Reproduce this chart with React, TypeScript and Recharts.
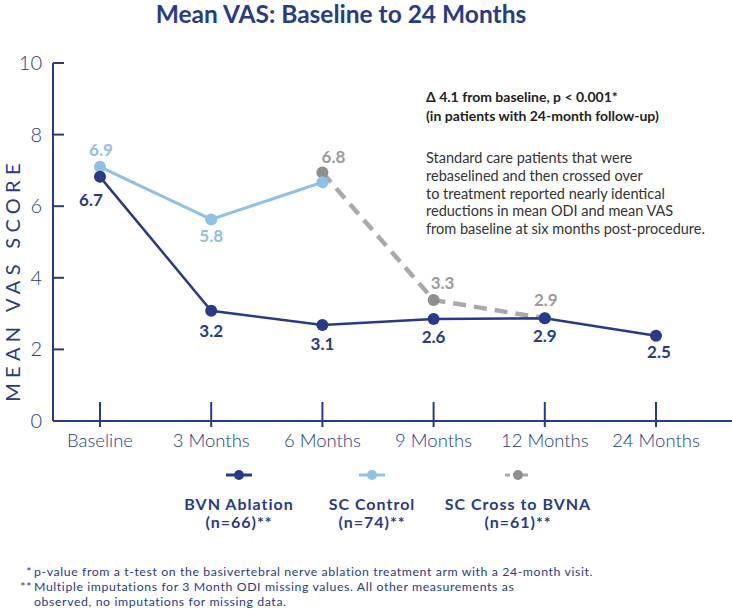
import { LabelList, Line, LineChart, XAxis, YAxis } from "recharts";

const months = ["Baseline", "3 Months", "6 Months", "9 Months", "12 Months", "24 Months"];
const bvnAblation = [6.82, 3.08, 2.68, 2.85, 2.87, 2.38];
const scControl = [7.1, 5.63, 6.67, null, null, null];
const scCross = [null, null, 6.94, 3.38, 2.87, null];
const bvnLabels = ["6.7", "3.2", "3.1", "2.6", "2.9", "2.5"];
const scLabels = ["6.9", "5.8", null, null, null, null];
const crossLabels = [null, null, "6.8", "3.3", "2.9", null];
const yTicks = [0, 2, 4, 6, 8, 10];

const NAVY = "#273b88";
const LIGHT = "#8fc0e6";
const GRAY_LINE = "#a9a9a9";
const GRAY_DOT = "#8f8f8f";
const FONT = "Lato, 'Open Sans', sans-serif";

// label offsets [dx, dy] per point (style only)
const bvnOffsets = [[-9, 29], [0, 26], [0, 25], [0, 24], [0, 24], [3, 22]];
const scOffsets = [[1, -11], [0, 23], [0, 0], [0, 0], [0, 0], [0, 0]];
const crossOffsets = [[0, 0], [0, 0], [11, -10], [9, -11], [1, -12], [0, 0]];

const chartData = months.map((month, i) => ({
  month,
  bvn: bvnAblation[i],
  sc: scControl[i],
  cross: scCross[i],
}));

const makeLabel =
  (texts: (string | null)[], offsets: number[][], color: string) =>
  (props: any) => {
    const i = props.index;
    const text = texts[i];
    if (!text) return null;
    const x = props.x ?? props.viewBox?.x;
    const y = props.y ?? props.viewBox?.y;
    if (x == null || y == null) return null;
    const [dx, dy] = offsets[i];
    return (
      <text
        x={x + dx}
        y={y + dy}
        textAnchor="middle"
        fill={color}
        fontSize={17}
        fontWeight={700}
        fontFamily={FONT}
      >
        {text}
      </text>
    );
  };

const YTick = (props: any) => {
  const { x, y, payload } = props;
  return (
    <g>
      <line x1={x + 10} x2={x + 21} y1={y} y2={y} stroke={NAVY} strokeWidth={2} />
      <text x={x - 1} y={y + 7} textAnchor="end" fill={NAVY} fontSize={20} fontFamily={FONT} fontWeight={300}>
        {payload.value}
      </text>
    </g>
  );
};

const XTick = (props: any) => {
  const { x, y, payload } = props;
  return (
    <g>
      <line x1={x} x2={x} y1={y - 19} y2={y + 6} stroke={NAVY} strokeWidth={2} />
      <text x={x} y={y + 26} textAnchor="middle" fill={NAVY} fontSize={18.5} fontFamily={FONT} fontWeight={300}>
        {payload.value}
      </text>
    </g>
  );
};

const legendItems = [
  { name: "BVN Ablation", n: "(n=66)**", color: NAVY, dash: false, cx: 239 },
  { name: "SC Control", n: "(n=74)**", color: LIGHT, dash: false, cx: 372 },
  { name: "SC Cross to BVNA", n: "(n=61)**", color: GRAY_DOT, dash: true, cx: 518 },
];

export default function App() {
  return (
    <div
      style={{
        position: "absolute",
        left: 0,
        top: 0,
        width: 732,
        height: 610,
        background: "#fff",
        fontFamily: FONT,
      }}
    >
      <div
        style={{
          position: "absolute",
          left: 0,
          width: 682,
          top: -1,
          textAlign: "center",
          fontSize: 24.5,
          fontWeight: 700,
          color: NAVY,
          lineHeight: "30px",
        }}
      >
        Mean VAS: Baseline to 24 Months
      </div>

      <div
        style={{
          position: "absolute",
          left: 12 - 150,
          top: 280 - 14,
          width: 300,
          height: 28,
          lineHeight: "28px",
          textAlign: "center",
          transform: "rotate(-90deg)",
          fontSize: 20,
          color: NAVY,
          letterSpacing: 5.3,
          whiteSpace: "nowrap",
        }}
      >
        MEAN VAS SCORE
      </div>

      <LineChart
        width={732}
        height={610}
        data={chartData}
        margin={{ top: 63, right: 0, left: 0, bottom: 149 }}
        style={{ position: "absolute", left: 0, top: 0 }}
      >
        <XAxis
          dataKey="month"
          scale="point"
          padding={{ left: 47, right: 76 }}
          height={40}
          tickSize={0}
          tickMargin={0}
          tickLine={false}
          axisLine={{ stroke: NAVY, strokeWidth: 2 }}
          tick={<XTick />}
          interval={0}
        />
        <YAxis
          domain={[0, 10]}
          ticks={yTicks}
          width={53}
          tickSize={0}
          tickMargin={10}
          tickLine={false}
          axisLine={{ stroke: NAVY, strokeWidth: 2 }}
          tick={<YTick />}
          interval={0}
        />
        <Line
          dataKey="cross"
          stroke={GRAY_LINE}
          strokeWidth={4.5}
          strokeDasharray="13 8"
          dot={{ r: 6, fill: GRAY_DOT, stroke: GRAY_DOT, strokeWidth: 0 }}
          connectNulls={false}
          isAnimationActive={false}
        >
          <LabelList dataKey="cross" content={makeLabel(crossLabels, crossOffsets, "#9b9b9b")} />
        </Line>
        <Line
          dataKey="sc"
          stroke={LIGHT}
          strokeWidth={3}
          dot={{ r: 6, fill: LIGHT, stroke: LIGHT, strokeWidth: 0 }}
          isAnimationActive={false}
        >
          <LabelList dataKey="sc" content={makeLabel(scLabels, scOffsets, LIGHT)} />
        </Line>
        <Line
          dataKey="bvn"
          stroke={NAVY}
          strokeWidth={2.5}
          dot={{ r: 6, fill: NAVY, stroke: NAVY, strokeWidth: 0 }}
          isAnimationActive={false}
        >
          <LabelList dataKey="bvn" content={makeLabel(bvnLabels, bvnOffsets, NAVY)} />
        </Line>
      </LineChart>

      <div
        style={{
          position: "absolute",
          left: 426,
          top: 87,
          fontSize: 14,
          fontWeight: 700,
          lineHeight: "19px",
          color: "#222",
          whiteSpace: "nowrap",
        }}
      >
        Δ 4.1 from baseline, p &lt; 0.001*
        <br />
        (in patients with 24-month follow-up)
      </div>
      <div
        style={{
          position: "absolute",
          left: 426,
          top: 149,
          fontSize: 14.5,
          lineHeight: "17.8px",
          color: "#333",
          whiteSpace: "nowrap",
        }}
      >
        Standard care patients that were
        <br />
        rebaselined and then crossed over
        <br />
        to treatment reported nearly identical
        <br />
        reductions in mean ODI and mean VAS
        <br />
        from baseline at six months post-procedure.
      </div>

      {legendItems.map((item) => (
        <div
          key={item.name}
          style={{
            position: "absolute",
            left: item.cx - 100,
            top: 468,
            width: 200,
            textAlign: "center",
            color: NAVY,
            fontWeight: 700,
            fontSize: 16,
            letterSpacing: 1,
            lineHeight: "18px",
          }}
        >
          <svg width={30} height={14} style={{ display: "block", margin: "0 auto 13px" }}>
            <line
              x1={2}
              x2={28}
              y1={7}
              y2={7}
              stroke={item.dash ? GRAY_LINE : item.color}
              strokeWidth={3}
              strokeDasharray={item.dash ? "5 4" : undefined}
            />
            <circle cx={15} cy={7} r={5} fill={item.color} />
          </svg>
          {item.name}
          <br />
          {item.n}
        </div>
      ))}

      <div
        style={{
          position: "absolute",
          left: 0,
          top: 565,
          fontSize: 12.3,
          letterSpacing: 0.6,
          lineHeight: "14.8px",
          color: NAVY,
          whiteSpace: "nowrap",
        }}
      >
        <div style={{ position: "relative", paddingLeft: 34 }}>
          <span style={{ position: "absolute", right: "calc(100% - 32px)" }}>*</span>
          p-value from a t-test on the basivertebral nerve ablation treatment arm with a 24-month visit.
        </div>
        <div style={{ position: "relative", paddingLeft: 34 }}>
          <span style={{ position: "absolute", right: "calc(100% - 32px)" }}>**</span>
          Multiple imputations for 3 Month ODI missing values. All other measurements as
        </div>
        <div style={{ paddingLeft: 34 }}>observed, no imputations for missing data.</div>
      </div>
    </div>
  );
}
